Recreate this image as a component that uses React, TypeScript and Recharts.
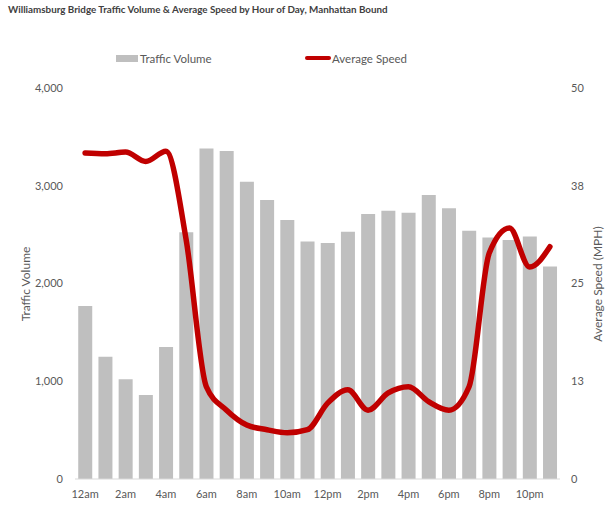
import React from 'react';
import { ComposedChart, Bar, Line, XAxis, YAxis } from 'recharts';

const hours = [
  '12am', '1am', '2am', '3am', '4am', '5am', '6am', '7am', '8am', '9am', '10am', '11am',
  '12pm', '1pm', '2pm', '3pm', '4pm', '5pm', '6pm', '7pm', '8pm', '9pm', '10pm', '11pm',
];
const trafficVolume = [
  1770, 1250, 1020, 860, 1350, 2525, 3380, 3355, 3040, 2855, 2650, 2430,
  2415, 2530, 2710, 2745, 2725, 2905, 2770, 2540, 2470, 2445, 2480, 2175,
];
const averageSpeed = [
  41.7, 41.6, 41.8, 40.6, 41.9, 30.6, 11.8, 8.8, 6.9, 6.3, 5.9, 6.3,
  9.7, 11.4, 8.8, 11.0, 11.8, 9.9, 8.8, 11.8, 28.9, 32.1, 27.1, 29.7,
];
const volumeTicks = [0, 1000, 2000, 3000, 4000];
const speedTicks = [0, 12.5, 25, 37.5, 50];

const data = hours.map((hour, i) => ({
  hour,
  volume: trafficVolume[i],
  speed: averageSpeed[i],
}));

const font = 'Lato, "Open Sans", sans-serif';
const tickStyle = { fill: '#595959', fontSize: 11, fontFamily: font };

const App: React.FC = () => {
  return (
    <div style={{ position: 'absolute', left: 0, top: 0, width: 605, height: 514, background: '#fff', fontFamily: font }}>
      <div style={{ position: 'absolute', left: 8, top: 3, fontSize: 9.8, fontWeight: 700, color: '#404040', whiteSpace: 'nowrap' }}>
        Williamsburg Bridge Traffic Volume &amp; Average Speed by Hour of Day, Manhattan Bound
      </div>

      {/* legend */}
      <div style={{ position: 'absolute', left: 116, top: 50, height: 16, display: 'flex', alignItems: 'center', fontSize: 11.5, color: '#595959' }}>
        <span style={{ display: 'inline-block', width: 22, height: 7, background: '#bfbfbf', marginRight: 2 }} />
        Traffic Volume
      </div>
      <div style={{ position: 'absolute', left: 305, top: 50, height: 16, display: 'flex', alignItems: 'center', fontSize: 11.5, color: '#595959' }}>
        <span style={{ display: 'inline-block', width: 26, height: 4, borderRadius: 2, background: '#c00000', marginRight: 1 }} />
        Average Speed
      </div>

      <ComposedChart
        width={605}
        height={514}
        data={data}
        margin={{ top: 88, right: 0, bottom: 0, left: 0 }}
        barCategoryGap="16%"
      >
        <XAxis
          dataKey="hour"
          interval={1}
          tick={tickStyle}
          tickLine={false}
          tickMargin={5}
          height={35}
          axisLine={{ stroke: '#d9d9d9' }}
        />
        <YAxis
          yAxisId="volume"
          width={75}
          domain={[0, 4000]}
          ticks={volumeTicks}
          tick={tickStyle}
          tickLine={false}
          axisLine={false}
          tickMargin={6}
          tickFormatter={(v: number) => v.toLocaleString('en-US')}
          label={{
            content: () => (
              <text x={25} y={284} transform="rotate(-90, 25, 284)" textAnchor="middle" dominantBaseline="central" fill="#595959" fontSize={12} fontFamily={font}>
                Traffic Volume
              </text>
            ),
          }}
        />
        <YAxis
          yAxisId="speed"
          orientation="right"
          width={45}
          domain={[0, 50]}
          ticks={speedTicks}
          tick={{ ...tickStyle, textAnchor: 'start' }}
          tickLine={false}
          axisLine={false}
          tickMargin={5}
          tickFormatter={(v: number) => String(Math.round(v))}
          label={{
            content: () => (
              <text x={597} y={284} transform="rotate(-90, 597, 284)" textAnchor="middle" dominantBaseline="central" fill="#595959" fontSize={12} fontFamily={font}>
                Average Speed (MPH)
              </text>
            ),
          }}
        />
        <Bar yAxisId="volume" dataKey="volume" fill="#bfbfbf" isAnimationActive={false} />
        <Line
          yAxisId="speed"
          dataKey="speed"
          type="monotone"
          stroke="#c00000"
          strokeWidth={5.5}
          strokeLinecap="round"
          strokeLinejoin="round"
          dot={false}
          activeDot={false}
          isAnimationActive={false}
        />
      </ComposedChart>
    </div>
  );
};

export default App;
